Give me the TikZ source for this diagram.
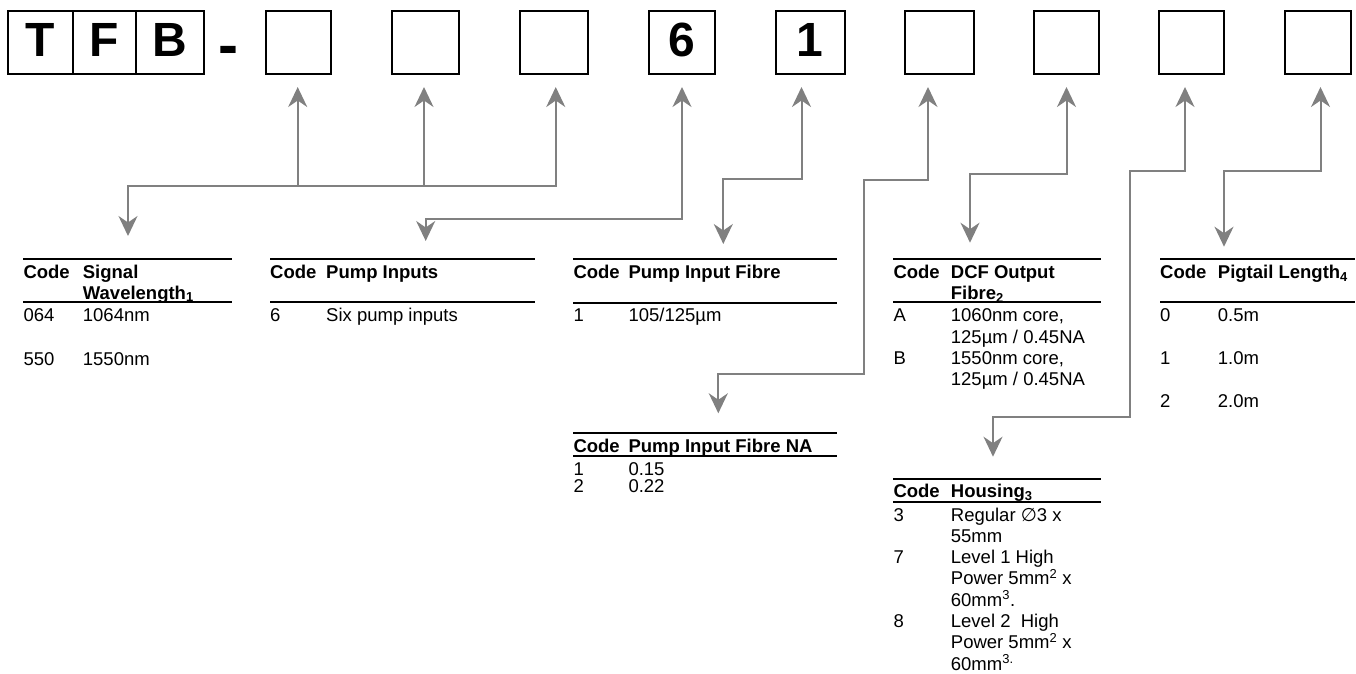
\documentclass[tikz,border=0pt]{standalone}
\usepackage{fontspec}
\setmainfont{Liberation Sans}
\newfontfamily\djv{DejaVu Sans}
\usetikzlibrary{arrows.meta,calc}
\definecolor{lg}{RGB}{128,128,128}
\newcommand\tabfont{\fontsize{18.5}{21.5}\selectfont}
\newcommand\bigfont{\fontsize{48}{50}\selectfont\bfseries}
\tikzset{
  conn/.style={draw=lg, line width=2pt},
  rulel/.style={draw=black, line width=2pt},
  cell/.style={anchor=base west, inner sep=0pt, font=\tabfont},
  hcell/.style={cell, font=\tabfont\bfseries},
  codebox/.style={draw=black, line width=2pt, inner sep=0pt, text height=46pt, text depth=17.3pt, font=\bigfont},
}
\begin{document}
\begin{tikzpicture}[x=1pt,y=-1pt,>={Stealth[length=20pt,width=19pt,inset=6.5pt]}]
\useasboundingbox (0,0) rectangle (1356,673);
% top code boxes
\node[codebox, minimum width=64.4pt] (bT) at (40.5,42.35) {T};
\node[codebox, minimum width=63.3pt] (bF) at (104.35,42.35) {F};
\node[codebox, minimum width=68pt] (bB) at (170,42.35) {B};
\node[anchor=base, inner sep=0pt, font=\fontsize{60}{60}\selectfont\bfseries] (dash) at (228.8,65.5) {-};
\node[codebox, minimum width=65.3pt] (b1) at (298.35,42.35) {};
\node[codebox, minimum width=67.6pt] (b2) at (425.5,42.35) {};
\node[codebox, minimum width=67.5pt] (b3) at (553.75,42.35) {};
\node[codebox, minimum width=66pt] (b6) at (682,42.35) {6};
\node[codebox, minimum width=68.5pt] (bOne) at (810.25,42.35) {1};
\node[codebox, minimum width=69pt] (b7) at (939.5,42.35) {};
\node[codebox, minimum width=65pt] (b8) at (1066.5,42.35) {};
\node[codebox, minimum width=65pt] (b9) at (1191.5,42.35) {};
\node[codebox, minimum width=65.6pt] (b10) at (1317.8,42.35) {};
% arrow tips under boxes
\coordinate (u1) at ([xshift=-0.65pt,yshift=-12pt]b1.south);
\coordinate (u2) at ([xshift=-1.5pt,yshift=-12pt]b2.south);
\coordinate (u3) at ([xshift=2pt,yshift=-12pt]b3.south);
\coordinate (u6) at ([yshift=-12pt]b6.south);
\coordinate (u1d) at ([xshift=-8.75pt,yshift=-12pt]bOne.south);
\coordinate (u7) at ([xshift=-11.5pt,yshift=-12pt]b7.south);
\coordinate (u8) at ([yshift=-12pt]b8.south);
\coordinate (u9) at ([xshift=-6.5pt,yshift=-12pt]b9.south);
\coordinate (u10) at ([xshift=2.7pt,yshift=-12pt]b10.south);
% arrow tips above tables
\coordinate (tSig) at (128,236);
\coordinate (tPump) at (425.7,241);
\coordinate (tFib) at (723.3,244);
\coordinate (tNA) at (718.3,413.3);
\coordinate (tDCF) at (970,242.7);
\coordinate (tHous) at (993,456.7);
\coordinate (tPig) at (1224,246.7);
% connectors
\draw[conn,<->] (u3) -- ++(0,99) -| (tSig);
\draw[conn,<-] (u1) -- ++(0,99);
\draw[conn,<-] (u2) -- ++(0,99);
\draw[conn,<->] (u6) -- ++(0,132) -| (tPump);
\draw[conn,<->] (u1d) -- ++(0,92.3) -| (tFib);
\draw[conn,<->] (u7) -- ++(0,93) -| ++(-64.2,193.5) -| (tNA);
\draw[conn,<->] (u8) -- ++(0,87) -| (tDCF);
\draw[conn,<->] (u9) -- ++(0,84) -| ++(-55,245.5) -| (tHous);
\draw[conn,<->] (u10) -- ++(0,84) -| (tPig);
% table: signal wavelength
\draw[rulel] (23.3,259) -- (232.3,259);
\draw[rulel] (23.3,302.3) -- (232.3,302.3);
\node[hcell] (sigC) at (23.3,278.4) {Code};
\node[hcell] (sigH1) at (82.7,278.4) {Signal};
\node[hcell] (sigH2) at (82.7,299) {Wavelength\textsubscript{1}};
\node[cell] (sigA) at (23.3,321.7) {064};
\node[cell] (sigAv) at (82.7,321.7) {1064nm};
\node[cell] (sigB) at (23.3,365.7) {550};
\node[cell] (sigBv) at (82.7,365.7) {1550nm};
% table: pump inputs
\draw[rulel] (270,259) -- (535,259);
\draw[rulel] (270,302.3) -- (535,302.3);
\node[hcell] (pumC) at (270,278.4) {Code};
\node[hcell] (pumH) at (326,278.4) {Pump Inputs};
\node[cell] (pumA) at (270,321.7) {6};
\node[cell] (pumAv) at (326,321.7) {Six pump inputs};
% table: pump input fibre
\draw[rulel] (573.3,259) -- (836.7,259);
\draw[rulel] (573.3,302.7) -- (836.7,302.7);
\node[hcell] (fibC) at (573.3,278.4) {Code};
\node[hcell] (fibH) at (628.3,278.4) {Pump Input Fibre};
\node[cell] (fibA) at (573.3,321.7) {1};
\node[cell] (fibAv) at (628.3,321.7) {105/125µm};
% table: pump input fibre NA
\draw[rulel] (573.3,433) -- (836.7,433);
\draw[rulel] (573.3,455.7) -- (836.7,455.7);
\node[hcell] (naC) at (573.3,452.4) {Code};
\node[hcell] (naH) at (628.3,452.4) {Pump Input Fibre NA};
\node[cell] (naA) at (573.3,475.7) {1};
\node[cell] (naAv) at (628.3,475.7) {0.15};
\node[cell] (naB) at (573.3,492.2) {2};
\node[cell] (naBv) at (628.3,492.2) {0.22};
% table: DCF output fibre
\draw[rulel] (893.3,259) -- (1100.7,259);
\draw[rulel] (893.3,302.3) -- (1100.7,302.3);
\node[hcell] (dcfC) at (893.3,278.4) {Code};
\node[hcell] (dcfH1) at (950.7,278.4) {DCF Output};
\node[hcell] (dcfH2) at (950.7,299) {Fibre\textsubscript{2}};
\node[cell] (dcfA) at (893.3,321.7) {A};
\node[cell] (dcfAv1) at (950.7,321.7) {1060nm core,};
\node[cell] (dcfAv2) at (950.7,343.4) {125µm / 0.45NA};
\node[cell] (dcfB) at (893.3,364.7) {B};
\node[cell] (dcfBv1) at (950.7,364.7) {1550nm core,};
\node[cell] (dcfBv2) at (950.7,385.7) {125µm / 0.45NA};
% table: pigtail length
\draw[rulel] (1160,259) -- (1355,259);
\draw[rulel] (1160,302.3) -- (1355,302.3);
\node[hcell] (pigC) at (1160,278.4) {Code};
\node[hcell] (pigH) at (1217.7,278.4) {Pigtail Length\textsubscript{4}};
\node[cell] (pigA) at (1160,321.7) {0};
\node[cell] (pigAv) at (1217.7,321.7) {0.5m};
\node[cell] (pigB) at (1160,364.7) {1};
\node[cell] (pigBv) at (1217.7,364.7) {1.0m};
\node[cell] (pigD) at (1160,407.7) {2};
\node[cell] (pigDv) at (1217.7,407.7) {2.0m};
% table: housing
\draw[rulel] (893.3,479) -- (1100.7,479);
\draw[rulel] (893.3,502) -- (1100.7,502);
\node[hcell] (houC) at (893.3,497.4) {Code};
\node[hcell] (houH) at (950.7,497.4) {Housing\textsubscript{3}};
\node[cell] (houA) at (893.3,521) {3};
\node[cell] (houA1) at (950.7,521) {Regular {\djv ∅}3 x};
\node[cell] (houA2) at (950.7,542.3) {55mm};
\node[cell] (houB) at (893.3,563.6) {7};
\node[cell] (houB1) at (950.7,563.6) {Level 1 High};
\node[cell] (houB2) at (950.7,584.9) {Power 5mm\textsuperscript{2} x};
\node[cell] (houB3) at (950.7,606.2) {60mm\textsuperscript{3}.};
\node[cell] (houD) at (893.3,627.5) {8};
\node[cell] (houD1) at (950.7,627.5) {Level 2\ \ High};
\node[cell] (houD2) at (950.7,648.8) {Power 5mm\textsuperscript{2} x};
\node[cell] (houD3) at (950.7,670.1) {60mm\textsuperscript{3.}};
\end{tikzpicture}
\end{document}
